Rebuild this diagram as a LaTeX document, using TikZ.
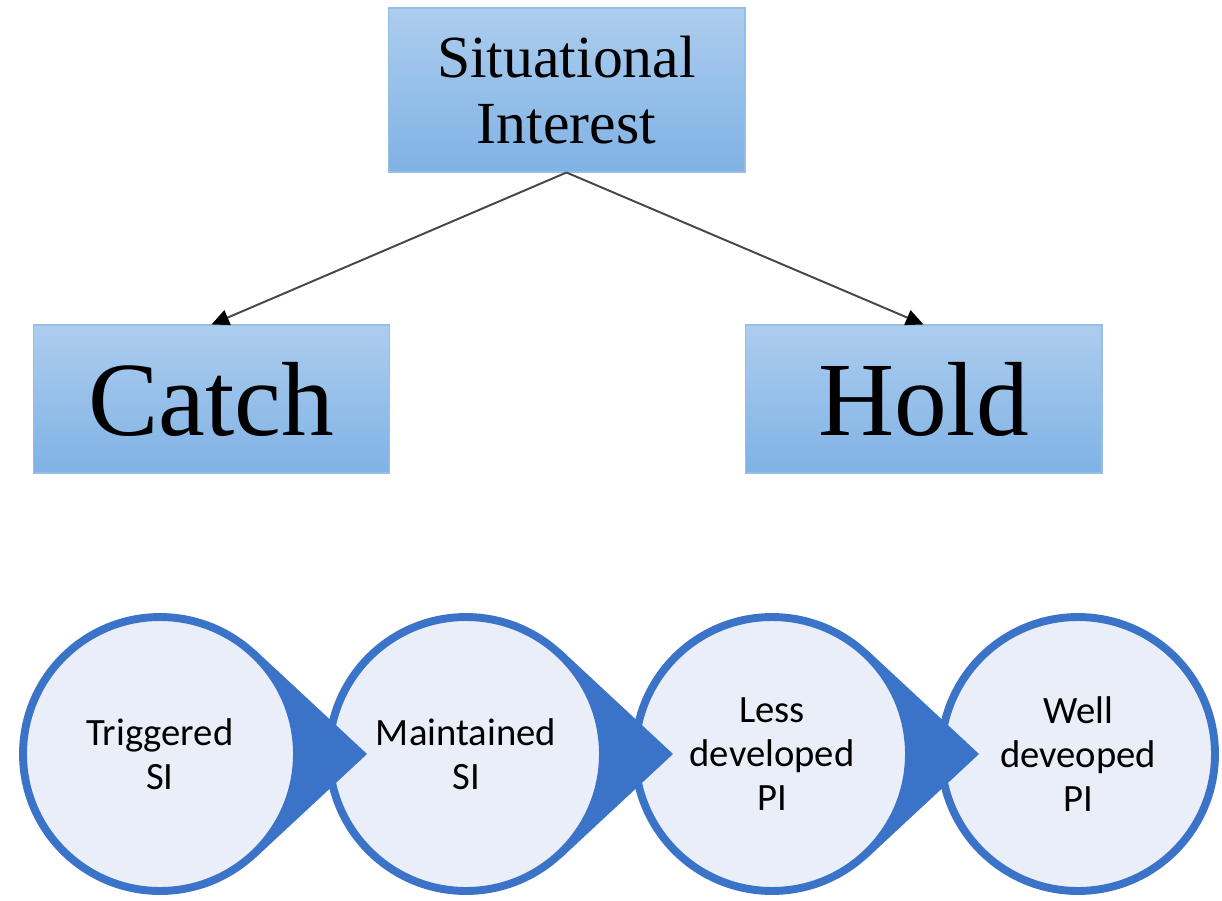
\documentclass[tikz,border=0pt]{standalone}
\usepackage{fontspec}
\setmainfont{Liberation Serif}
\newfontfamily\calib{Carlito}
\usetikzlibrary{arrows.meta,calc}
\definecolor{boxtop}{RGB}{172,205,238}
\definecolor{boxbot}{RGB}{128,178,229}
\definecolor{boxline}{RGB}{150,190,230}
\definecolor{ringblue}{RGB}{59,115,201}
\definecolor{ringfill}{RGB}{233,238,248}
\definecolor{linkgray}{RGB}{70,70,70}
\begin{document}
\begin{tikzpicture}[x=0.02cm,y=0.02cm,
  topbox/.style={draw=boxline, line width=0.6pt, top color=boxtop, bottom color=boxbot,
    minimum width=7.14cm, inner sep=0pt, align=center},
  ring/.style={circle, draw=ringblue, fill=ringfill, line width=4.5pt, minimum size=5.48cm,
    inner sep=0pt, align=center, font=\calib\fontsize{22}{25}\selectfont},
  link/.style={draw=linkgray, line width=1.1pt, -{Triangle[length=10pt,width=9pt,color=black]}},
  wedge/.style={fill=ringblue}]
\fill[white] (0,0) rectangle (1222,900);
\useasboundingbox (0,0) rectangle (1222,900);

% top boxes
\node[topbox, minimum height=3.28cm, font=\fontsize{34}{38}\selectfont] (si) at (566.5,810) {Situational\\Interest};
\node[topbox, minimum height=2.96cm, font=\fontsize{60}{60}\selectfont] (catch) at (211.5,501) {Catch};
\node[topbox, minimum height=2.96cm, font=\fontsize{60}{60}\selectfont] (hold) at (923.5,501) {Hold};

\draw[link] (si.south) -- (catch.north);
\draw[link] (si.south) -- (hold.north);

% circles
\node[ring] (c1) at (160,146) {Triggered\\SI};
\node[ring] (c2) at (466,146) {Maintained\\SI};
\node[ring] (c3) at (772,146) {Less\\developed\\PI};
\node[ring] (c4) at (1078,146) {Well\\deveoped\\PI};

% wedges
\foreach \c in {c1,c2,c3}{
  \coordinate (tip-\c) at ($(\c.center)+(207,0)$);
  \fill[wedge] (tip-\c) -- ($(\c.center)+(47:141)$) -- ($(\c.center)+(47:137)$)
    arc[start angle=47,end angle=-47,radius=137] -- ($(\c.center)+(-47:141)$) -- cycle;
}
\end{tikzpicture}
\end{document}
